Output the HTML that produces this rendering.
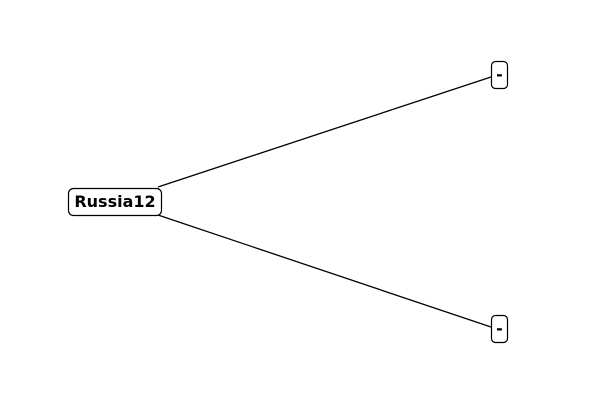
<!DOCTYPE html>
<html><head><meta charset="utf-8"><style>body{margin:0;background:#fff}</style></head><body>
<svg width="600" height="400" xmlns="http://www.w3.org/2000/svg" style="display:block">
<rect width="600" height="400" fill="#fff"/>
<line x1="158" y1="187" x2="491" y2="77" stroke="#000" stroke-width="1.3"/>
<line x1="158" y1="215" x2="491" y2="327" stroke="#000" stroke-width="1.3"/>
<rect x="68.5" y="188.5" width="93" height="27" rx="5" fill="#fff" stroke="#000" stroke-width="1.2"/>
<text x="115" y="207" text-anchor="middle" font-family="DejaVu Sans, sans-serif" font-weight="bold" font-size="16">Russia12</text>
<rect x="491.5" y="61.5" width="16" height="27" rx="4" fill="#fff" stroke="#000" stroke-width="1.2"/>
<text x="499.5" y="80" text-anchor="middle" font-family="DejaVu Sans, sans-serif" font-weight="bold" font-size="16">-</text>
<rect x="491.5" y="315.5" width="16" height="27" rx="4" fill="#fff" stroke="#000" stroke-width="1.2"/>
<text x="499.5" y="334" text-anchor="middle" font-family="DejaVu Sans, sans-serif" font-weight="bold" font-size="16">-</text>
</svg>
</body></html>
